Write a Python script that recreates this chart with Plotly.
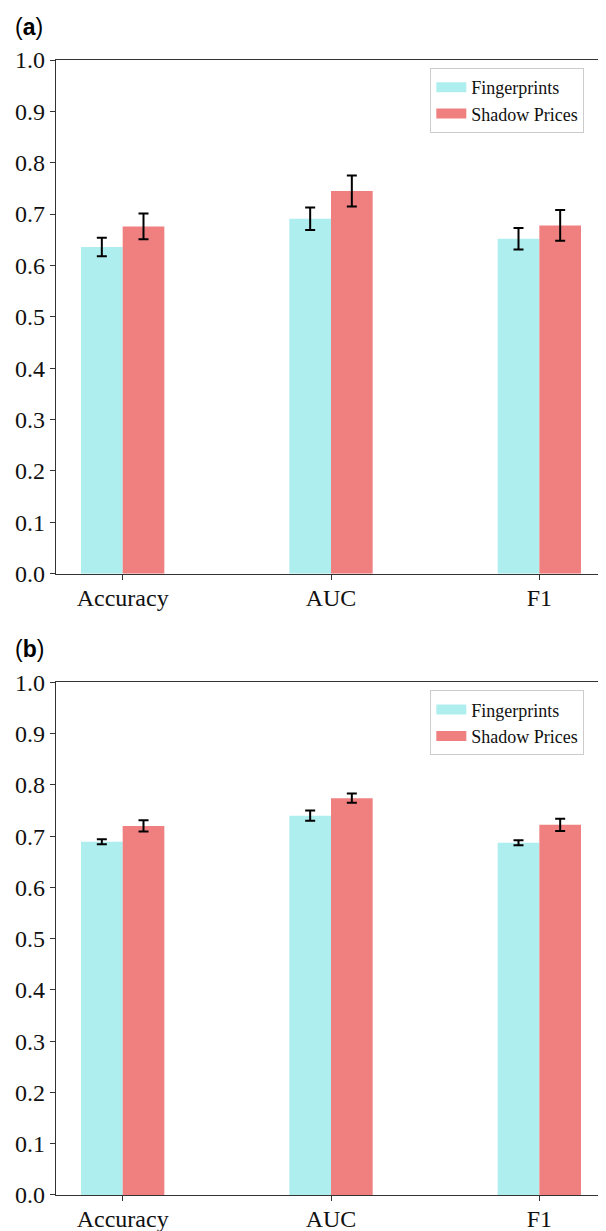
import plotly.graph_objects as go

categories = ["Accuracy", "AUC", "F1"]
cat_pos = [0, 1, 2]

# Panel (a)
a_finger = [0.636, 0.691, 0.652]
a_finger_err = [0.018, 0.022, 0.021]
a_shadow = [0.676, 0.745, 0.678]
a_shadow_err = [0.025, 0.030, 0.030]

# Panel (b)
b_finger = [0.689, 0.740, 0.687]
b_finger_err = [0.005, 0.010, 0.005]
b_shadow = [0.720, 0.774, 0.722]
b_shadow_err = [0.011, 0.009, 0.012]

y_ticks = [0.0, 0.1, 0.2, 0.3, 0.4, 0.5, 0.6, 0.7, 0.8, 0.9, 1.0]

CYAN = "#AFEEEE"
RED = "#F08080"
SERIF = "Liberation Serif, Times New Roman, serif"

fig = go.Figure()

def add_panel(finger, ferr, shadow, serr, xa, ya, legend):
    fig.add_trace(go.Bar(x=cat_pos, y=finger, width=0.2, offset=-0.2,
                         marker=dict(color=CYAN, line=dict(width=0)),
                         error_y=dict(type="data", array=ferr, color="black", thickness=2, width=5),
                         xaxis=xa, yaxis=ya, showlegend=False, name="Fingerprints"))
    fig.add_trace(go.Bar(x=cat_pos, y=shadow, width=0.2, offset=0.0,
                         marker=dict(color=RED, line=dict(width=0)),
                         error_y=dict(type="data", array=serr, color="black", thickness=2, width=5),
                         xaxis=xa, yaxis=ya, showlegend=False, name="Shadow Prices"))
    for nm, col in [("Fingerprints", CYAN), ("Shadow Prices", RED)]:
        fig.add_trace(go.Scatter(x=[None], y=[None], mode="lines", name=nm,
                                 line=dict(color=col, width=10),
                                 xaxis=xa, yaxis=ya, legend=legend, showlegend=True))

add_panel(a_finger, a_finger_err, a_shadow, a_shadow_err, "x", "y", "legend")
add_panel(b_finger, b_finger_err, b_shadow, b_shadow_err, "x2", "y2", "legend2")

W, H = 606, 1231
L, R, T, B = 48, 7, 52, 41
ph = H - T - B

def yfrac(px):
    return (H - B - px) / ph

axis_common = dict(showline=True, linecolor="#333", linewidth=1.2, mirror=True,
                   ticks="outside", ticklen=5, tickcolor="#333", showgrid=False, zeroline=False,
                   tickfont=dict(family=SERIF, size=24, color="#111"))

xa = dict(axis_common, range=[-0.32, 2.32], tickvals=cat_pos, ticktext=categories,
          ticklabelstandoff=-3)
ya_ = dict(axis_common, range=[0, 1], tickvals=y_ticks, ticktext=[f"{v:.1f}" for v in y_ticks])

leg_common = dict(xanchor="left", yanchor="top", bordercolor="#cccccc", borderwidth=1,
                  bgcolor="white", font=dict(family=SERIF, size=18, color="#111"))

fig.update_layout(
    width=W, height=H,
    margin=dict(l=L, r=R, t=T, b=B),
    paper_bgcolor="white", plot_bgcolor="white",
    barmode="overlay",
    xaxis=dict(xa, domain=[0, 1], anchor="y"),
    yaxis=dict(ya_, domain=[yfrac(567), 1], anchor="x"),
    xaxis2=dict(xa, domain=[0, 1], anchor="y2"),
    yaxis2=dict(ya_, domain=[0, yfrac(676)], anchor="x2"),
    legend=dict(leg_common, x=(423 - L) / (W - L - R), y=yfrac(60)),
    legend2=dict(leg_common, x=(423 - L) / (W - L - R), y=yfrac(684)),
    showlegend=True,
)

for label, ypx in [("a", 19), ("b", 643)]:
    fig.add_annotation(text=f"(<b>{label}</b>)", xref="paper", yref="paper",
                       x=(5 - L) / (W - L - R), y=yfrac(ypx), xanchor="left", yanchor="middle",
                       showarrow=False, font=dict(family="Liberation Sans, Arial, sans-serif", size=23, color="black"))

fig.write_html("out.html")
